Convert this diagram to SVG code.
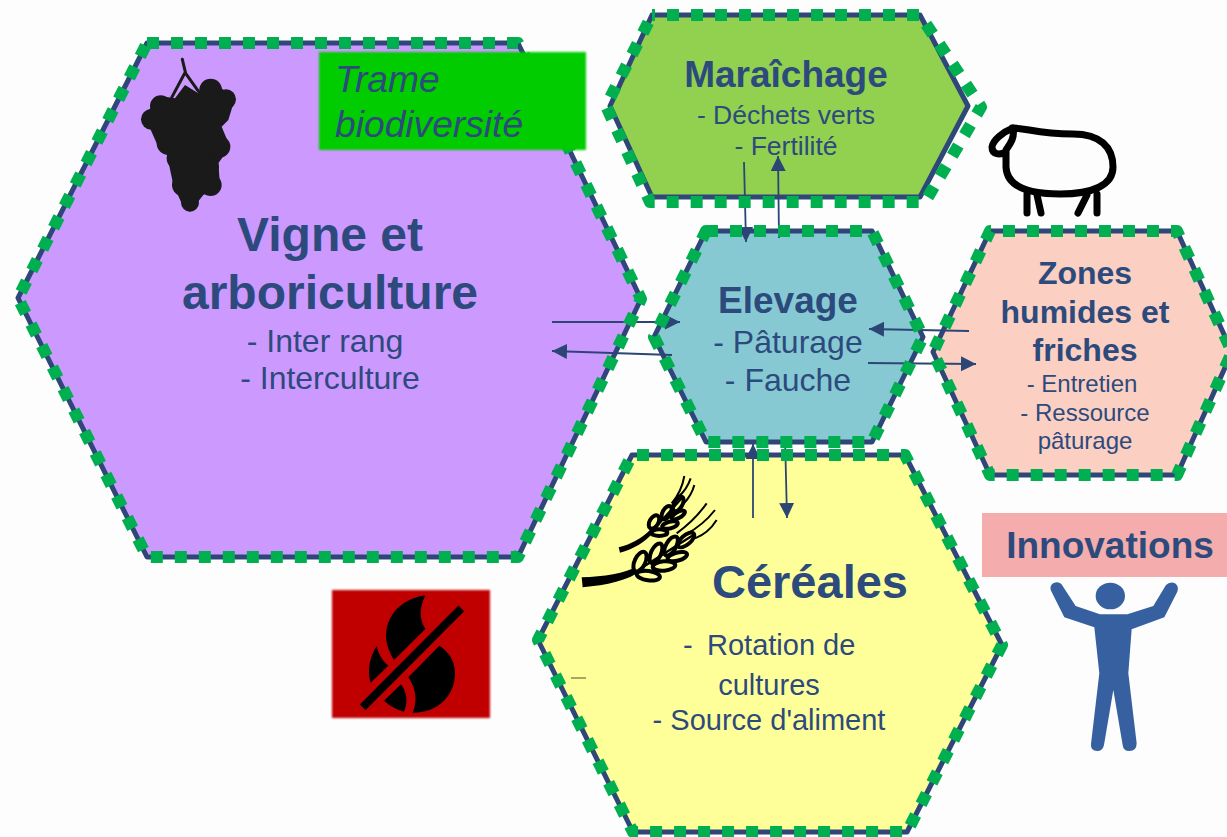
<svg xmlns="http://www.w3.org/2000/svg" width="1227" height="837" viewBox="0 0 1227 837">
<style>
text{font-family:"Liberation Sans",Arial,sans-serif;fill:#2d4a7d;text-anchor:middle}
.b{font-weight:bold}
.hex{stroke:#2e4678;stroke-width:5;stroke-linejoin:round}
.dash{fill:none;stroke:#00b050;stroke-width:12;stroke-dasharray:12 12;stroke-linejoin:round}
.conn{fill:none;stroke:#2b4675;stroke-width:1.8;marker-end:url(#arrow)}
</style>
<defs>
<marker id="arrow" markerUnits="userSpaceOnUse" markerWidth="16" markerHeight="16" refX="15" refY="7.5" orient="auto"><path d="M0,0L15,7.5L0,15Z" fill="#2b4675"/></marker>
<filter id="soft" x="-5%" y="-5%" width="110%" height="110%"><feGaussianBlur stdDeviation="1"/></filter>
</defs>
<rect id="background" width="1227" height="837" fill="#fdfdfe"/>

<g id="node-vigne">
<path class="hex" fill="#cc99ff" d="M147,43H518L641,299L518,557H147L18,298Z"/>
<g id="grapes" fill="#1a1a1a" stroke="none" transform="translate(120,30) scale(.3333)">
<path d="M187,88L197,130L236,185M194,130L155,203" fill="none" stroke="#1a1a1a" stroke-width="9" stroke-linecap="round"/>
<path d="M95,230L135,200L165,205L195,165L235,190L270,150L345,205L325,270L305,290L330,350L295,400L300,465L250,495L210,545L185,520L160,465L140,370L110,340L90,295L65,265Z"/>
<circle cx="272" cy="180" r="34"/><circle cx="318" cy="208" r="30"/><circle cx="122" cy="228" r="32"/><circle cx="94" cy="268" r="31"/><circle cx="290" cy="245" r="36"/><circle cx="145" cy="340" r="35"/><circle cx="298" cy="350" r="33"/><circle cx="175" cy="385" r="35"/><circle cx="262" cy="410" r="35"/><circle cx="190" cy="465" r="34"/><circle cx="272" cy="465" r="33"/><circle cx="210" cy="518" r="27"/>
</g>
<text class="b" font-size="48" x="330" y="251">Vigne et</text>
<text class="b" font-size="48" x="330" y="309">arboriculture</text>
<text font-size="32" x="325" y="352">- Inter rang</text>
<text font-size="32" x="330" y="389">- Interculture</text>
</g>

<g id="node-maraichage">
<path class="hex" fill="#92d050" d="M652,15H920L968,106L920,197H652L610,106Z"/>
<text class="b" font-size="37" x="786" y="87">Maraîchage</text>
<text font-size="26.5" x="786" y="124">- Déchets verts</text>
<text font-size="26.5" x="786" y="155">- Fertilité</text>
</g>

<g id="node-elevage">
<path class="hex" fill="#86c9d3" d="M706,231H872L923,337L872,442H706L654,337Z"/>
<text class="b" font-size="37" x="788" y="313">Elevage</text>
<text font-size="32" x="788" y="353">- Pâturage</text>
<text font-size="32" x="788" y="391">- Fauche</text>
</g>

<g id="node-zones">
<path class="hex" fill="#fbcfc2" d="M990,231H1177L1232,352L1177,475H990L933,352Z"/>
<text class="b" font-size="32" x="1085" y="284">Zones</text>
<text class="b" font-size="32" x="1085" y="323">humides et</text>
<text class="b" font-size="32" x="1085" y="361">friches</text>
<text font-size="24" x="1082" y="392">- Entretien</text>
<text font-size="24" x="1085" y="421">- Ressource</text>
<text font-size="24" x="1085" y="449">pâturage</text>
<g id="sheep" fill="none" stroke="#000" stroke-width="7" stroke-linecap="round" stroke-linejoin="round" transform="translate(960,110)">
<path d="M52,18C67,18 77,24 113,24C140,24 153,37 153,57C153,75 133,84 100,84C70,84 47,78 46,57V40C50,34 55,28 53,18C43,22 33,30 32,37C32,45 40,45 46,42"/>
<path d="M67,84V103M77,85L81,103M127,85L118,103M137,84V103"/>
</g>
</g>

<g id="node-cereales">
<path class="hex" fill="#ffff99" d="M632,455H905L1002,645L907,832H633L538,640Z"/>
<path d="M571,678H586" stroke="#8a8a50" stroke-width="1.5"/>
<g id="wheat" transform="translate(570,460) scale(.3333)" stroke="#000">
<path d="M35,352L38,382C110,375 175,362 215,330L205,318C165,340 100,350 35,352Z" fill="#000" stroke="none"/>
<path d="M146,262L150,278C190,268 225,245 250,218L240,210C215,235 185,252 146,262Z" fill="#000" stroke="none"/>
<g fill="#ffff99" stroke-width="12">
<ellipse cx="210" cy="305" rx="32" ry="16" transform="rotate(-65 210 305)"/>
<ellipse cx="258" cy="280" rx="32" ry="15" transform="rotate(-65 258 280)"/>
<ellipse cx="303" cy="258" rx="32" ry="15" transform="rotate(-60 303 258)"/>
<ellipse cx="348" cy="240" rx="30" ry="14" transform="rotate(-40 348 240)"/>
<ellipse cx="235" cy="347" rx="35" ry="14" transform="rotate(8 235 347)"/>
<ellipse cx="282" cy="318" rx="34" ry="14" transform="rotate(-5 282 318)"/>
<ellipse cx="322" cy="290" rx="30" ry="12" transform="rotate(-15 322 290)"/>
<ellipse cx="252" cy="186" rx="22" ry="13" transform="rotate(-60 252 186)"/>
<ellipse cx="290" cy="158" rx="22" ry="12" transform="rotate(-60 290 158)"/>
<ellipse cx="325" cy="132" rx="24" ry="12" transform="rotate(-60 325 132)"/>
<ellipse cx="268" cy="218" rx="24" ry="10"/>
<ellipse cx="300" cy="195" rx="24" ry="10" transform="rotate(-15 300 195)"/>
<ellipse cx="325" cy="165" rx="22" ry="9" transform="rotate(-30 325 165)"/>
</g>
<path d="M205,330L370,225M245,215L335,115" fill="none" stroke-width="7"/>
<path d="M320,220Q375,180 410,130M345,225Q400,195 435,150M375,235Q415,220 440,180M305,130Q335,95 343,48M325,110Q350,90 362,55M342,130Q365,105 373,75" fill="none" stroke-width="6"/>
</g>
<text class="b" font-size="47" x="810" y="598">Céréales</text>
<text font-size="29" x="683" y="655" style="text-anchor:start">-</text>
<text font-size="29" x="707" y="655" style="text-anchor:start">Rotation de</text>
<text font-size="29" x="769" y="695">cultures</text>
<text font-size="29" x="769" y="730">- Source d'aliment</text>
</g>

<g id="node-feu">
<rect x="332" y="590" width="158" height="128" fill="#c00000" filter="url(#soft)"/>
<g id="no-fire" transform="translate(320,580) scale(.3333)">
<path d="M316,46C250,55 200,100 198,165C198,195 210,220 222,240L316,147C300,120 295,90 316,46Z"/>
<path d="M170,198C150,230 140,270 152,308L205,257C185,240 175,220 170,198Z"/>
<path d="M358,197L265,292C285,320 295,360 278,398C350,400 405,350 405,280C405,240 385,215 358,197Z"/>
<path d="M243,313L192,362C210,378 230,390 252,395C265,365 260,335 243,313Z"/>
<path d="M128,382L424,85" stroke="#000" stroke-width="24"/>
</g>
</g>

<g id="node-innovations">
<rect x="982" y="513" width="245" height="64" fill="#f4acac"/>
<text class="b" font-size="37" x="1110" y="558">Innovations</text>
<g id="person" fill="#36609f" transform="translate(1030,570) scale(.3333)">
<ellipse cx="241" cy="78" rx="44" ry="40"/>
<path d="M62,60Q58,40 80,37Q92,37 98,48L137,108L210,133H292L370,108L408,45Q420,33 435,40Q448,50 442,65L403,142L305,178L295,310L320,520Q320,543 298,543Q280,543 278,525L250,360L222,525Q218,543 202,543Q181,543 183,522L208,310L193,172L103,142Z"/>
</g>
</g>

<g id="connectors">
<path class="conn" d="M744,162L746,242"/>
<path class="conn" d="M779,238L778,156"/>
<path class="conn" d="M552,322H680"/>
<path class="conn" d="M672,355L552,351"/>
<path class="conn" d="M969,331L869,329"/>
<path class="conn" d="M868,363L976,364"/>
<path class="conn" d="M753,518V444"/>
<path class="conn" d="M785,436L787,518"/>
</g>

<g id="node-borders">
<path class="dash" d="M147,43H518L641,299L518,557H147L18,298Z"/>
<path class="dash" stroke-dashoffset="9" d="M652,15H920L981,107L925,202H650L606,106Z"/>
<path class="dash" d="M706,231H872L923,337L872,442H706L654,337Z"/>
<path class="dash" stroke-dashoffset="11" d="M990,231H1177L1232,352L1177,475H990L933,352Z"/>
<path class="dash" stroke-dashoffset="19" d="M632,455H905L1002,645L907,832H633L538,640Z"/>
</g>

<g id="node-trame">
<rect x="319" y="52" width="267" height="98" fill="#00cc00" filter="url(#soft)"/>
<text font-size="37.2" font-style="italic" x="335" y="92" style="text-anchor:start">Trame</text>
<text font-size="37.2" font-style="italic" x="335" y="137" style="text-anchor:start">biodiversité</text>
</g>
</svg>
